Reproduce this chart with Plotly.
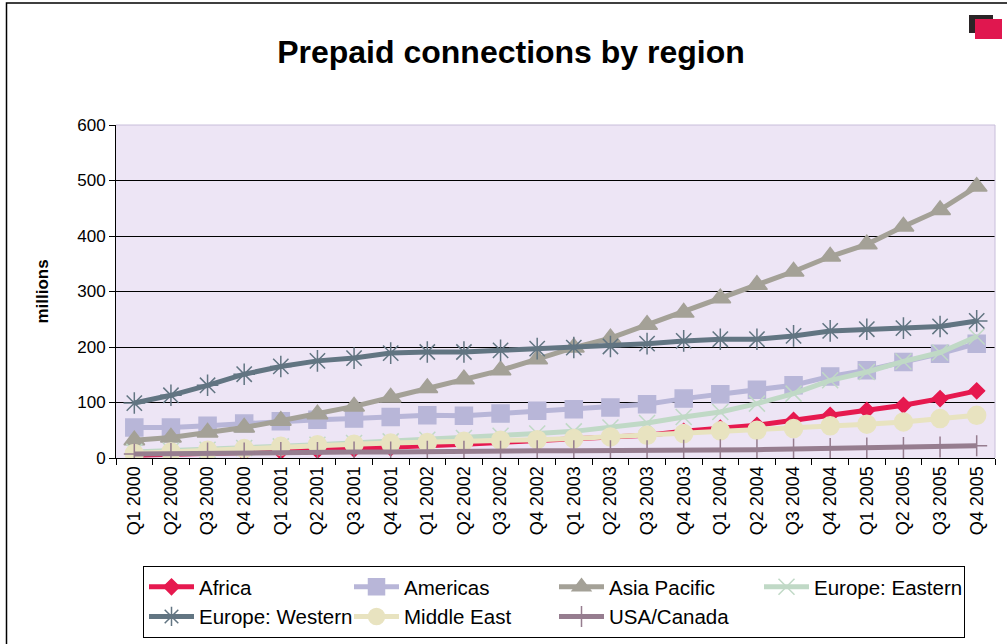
import plotly.graph_objects as go

# categories
quarters = [f"Q{q} {y}" for y in range(2000, 2006) for q in range(1, 5)]

# prepaid connections, millions
africa = [5, 6, 8, 10, 12, 14, 16, 18, 22, 25, 28, 32, 35, 38, 41, 48, 54, 59, 68, 77, 86, 95, 107, 121]
americas = [55, 55, 58, 62, 66, 69, 71, 74, 77, 76, 80, 85, 88, 91, 97, 107, 115, 123, 131, 147, 158, 173, 188, 206]
asia_pacific = [32, 37, 46, 55, 67, 79, 93, 109, 126, 142, 158, 178, 199, 216, 240, 262, 288, 312, 336, 363, 385, 417, 447, 489]
europe_eastern = [11, 13, 15, 18, 21, 24, 27, 30, 33, 36, 40, 44, 48, 55, 63, 74, 83, 98, 116, 140, 155, 174, 190, 219]
europe_western = [99, 113, 131, 151, 165, 175, 180, 189, 191, 191, 194, 197, 199, 201, 206, 211, 214, 214, 220, 229, 232, 234, 237, 247]
middle_east = [8, 11, 14, 17, 21, 24, 25, 27, 28, 30, 32, 33, 35, 38, 41, 44, 49, 50, 53, 58, 61, 65, 71, 77]
usa_canada = [7, 8, 9, 9, 10, 10, 11, 11, 12, 12, 12, 13, 13, 13, 13, 14, 15, 15, 16, 17, 18, 19, 20, 22]

FONT = "Liberation Sans, Arial, sans-serif"

# plot area in pixels (1007x644 page)
L, R, T, B = 116, 995, 125, 458


def px(x):
    return (x - L) / (R - L)


def py(y):
    return (B - y) / (B - T)


series = [
    ("Africa", africa, "#E6194F", "diamond", 12),
    ("Americas", americas, "#B8B6D8", "square", 17),
    ("Asia Pacific", asia_pacific, "#A4A197", "triangle-up", 18),
    ("Europe: Eastern", europe_eastern, "#C0D9C6", "x-thin-open", 16),
    ("Europe: Western", europe_western, "#627582", "asterisk-open", 18),
    ("Middle East", middle_east, "#E8E3C0", "circle", 18),
    ("USA/Canada", usa_canada, "#967D8F", "cross-thin-open", 15),
]

fig = go.Figure()
for name, vals, color, symbol, size in series:
    fig.add_trace(go.Scatter(x=quarters, y=vals, name=name, mode="lines+markers",
                             line=dict(color=color, width=5),
                             marker=dict(symbol=symbol, size=size, color=color,
                                         line=dict(color=color, width=1.5))))

fig.update_layout(
    width=1007, height=644,
    margin=dict(l=L, r=1007 - R, t=T, b=644 - B),
    paper_bgcolor="white", plot_bgcolor="#EDE5F5",
    font=dict(family=FONT, color="black"),
    title=dict(text="<b>Prepaid connections by region</b>", font=dict(size=32),
               x=511 / 1007, xanchor="center", xref="container",
               y=1 - 52 / 644, yanchor="middle", yref="container"),
    legend=dict(orientation="h", xref="container", yref="container",
                x=143 / 1007, y=1 - 566 / 644, xanchor="left", yanchor="top",
                bordercolor="black", borderwidth=1, font=dict(size=20.5),
                entrywidth=145, entrywidthmode="pixels", itemwidth=45,
                bgcolor="white"),
)

fig.update_xaxes(type="category", range=[-0.5, 23.5], tickson="boundaries",
                 ticks="outside", ticklen=6, tickcolor="black", tickangle=-90,
                 tickfont=dict(size=18), showgrid=False, showline=True,
                 linecolor="black", linewidth=1)
fig.update_yaxes(range=[0, 600], dtick=100, ticks="outside", ticklen=6,
                 tickcolor="black", tickfont=dict(size=17), showgrid=True,
                 gridcolor="black", gridwidth=1, zeroline=False, showline=True,
                 linecolor="black", linewidth=1,
                 title=dict(text="<b>millions</b>", font=dict(size=17), standoff=24))

# outer frame, plot border and corner logo
shapes = [
    dict(type="rect", xref="paper", yref="paper", x0=px(6.5), x1=px(1015),
         y0=py(660), y1=py(3), line=dict(color="black", width=1.5)),
    dict(type="line", xref="paper", yref="paper", x0=0, x1=1, y0=1, y1=1,
         line=dict(color="#C8BEDA", width=1)),
    dict(type="line", xref="paper", yref="paper", x0=1, x1=1, y0=0, y1=1,
         line=dict(color="#C8BEDA", width=1)),
    dict(type="rect", xref="paper", yref="paper", x0=px(969), x1=px(993),
         y0=py(33), y1=py(15), fillcolor="#2A2426", line=dict(width=0)),
    dict(type="rect", xref="paper", yref="paper", x0=px(975), x1=px(1002),
         y0=py(39), y1=py(19), fillcolor="#E0174F", line=dict(width=0)),
]
fig.update_layout(shapes=shapes)

fig.write_html("out.html", config={"displayModeBar": False},
               post_script="document.body.style.margin='0';")
